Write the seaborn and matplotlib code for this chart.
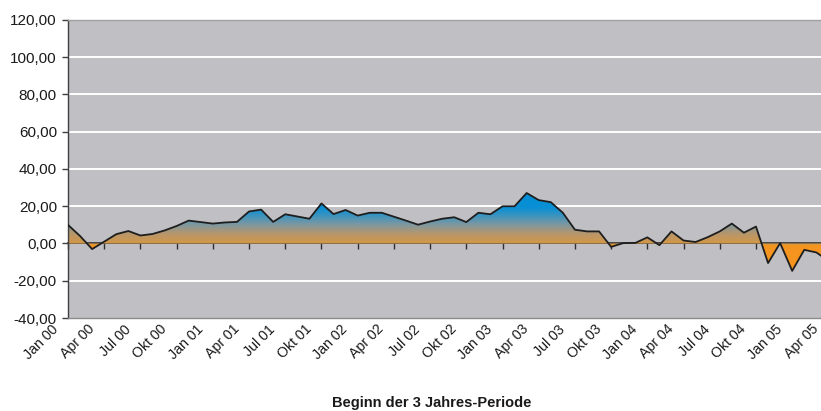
import numpy as np
import pandas as pd
import matplotlib
matplotlib.use("Agg")
import matplotlib.pyplot as plt
import seaborn as sns
from matplotlib.colors import LinearSegmentedColormap
from matplotlib.ticker import FuncFormatter
from matplotlib.transforms import ScaledTranslation

# ---- data (monthly, Jan 00 .. Apr 05) ----
values = [10.0, 4.0, -3.0, 1.0, 5.0, 6.7, 4.3, 5.1, 7.0, 9.4,
          12.3, 11.5, 10.7, 11.3, 11.6, 17.2, 18.2, 11.6, 15.7, 14.5,
          13.3, 21.5, 15.8, 18.0, 15.0, 16.5, 16.5, 14.4, 12.3, 10.1,
          11.8, 13.3, 14.1, 11.5, 16.5, 15.7, 20.0, 20.0, 27.1, 23.3,
          22.2, 16.5, 7.4, 6.5, 6.5, -1.8, 0.2, 0.3, 3.3, -0.9,
          6.5, 1.6, 0.8, 3.4, 6.5, 10.7, 5.8, 9.1, -10.5, 0.2,
          -14.7, -3.4, -4.8, -9.3]
tick_labels = ["Jan 00", "Apr 00", "Jul 00", "Okt 00",
               "Jan 01", "Apr 01", "Jul 01", "Okt 01",
               "Jan 02", "Apr 02", "Jul 02", "Okt 02",
               "Jan 03", "Apr 03", "Jul 03", "Okt 03",
               "Jan 04", "Apr 04", "Jul 04", "Okt 04",
               "Jan 05", "Apr 05"]
y_ticks = [-40, -20, 0, 20, 40, 60, 80, 100, 120]
x_label = "Beginn der 3 Jahres-Periode"

df = pd.DataFrame({"month": np.arange(len(values)), "value": values})
tick_pos = np.arange(0, len(tick_labels) * 3, 3)

sns.set_style("white")
plt.rcParams["font.family"] = ["Liberation Sans", "DejaVu Sans"]

fig = plt.figure(figsize=(8.21, 4.11), dpi=100)
ax = fig.add_axes([68 / 821, 93 / 411, 760.4 / 821, 298 / 411])
ax.set_facecolor("#C0C0C4")

# gridlines
for y in y_ticks[1:-1]:
    if y != 0:
        ax.axhline(y, color="white", lw=1.4, zorder=1)

# gradient-filled area
poly = ax.fill_between(df["month"], df["value"], 0, color="none", lw=0)
path = poly.get_paths()[0]
vmin, vmax = -16, 28
stops = [(-16, "#F7941D"), (-1.5, "#F5951F"), (0, "#D29849"), (5, "#B8966A"),
         (10, "#7F98A0"), (15, "#3A93C0"), (19, "#0A90D3"), (28, "#008ED8")]
cmap = LinearSegmentedColormap.from_list(
    "grad", [((v - vmin) / (vmax - vmin), c) for v, c in stops])
grad = np.linspace(vmin, vmax, 400).reshape(-1, 1)
im = ax.imshow(grad, extent=(0, len(values) - 1, vmin, vmax), origin="lower",
               aspect="auto", cmap=cmap, vmin=vmin, vmax=vmax, zorder=2,
               interpolation="bilinear")
im.set_clip_path(path, transform=ax.transData)

sns.lineplot(data=df, x="month", y="value", color="#1E1E1E", lw=1.3,
             ax=ax, zorder=4)

ax.set_xlim(0, len(values) - 1)
ax.set_ylim(-40, 120)
ax.set_xlabel("")
ax.set_ylabel("")

# y axis
ax.set_yticks(y_ticks)
ax.yaxis.set_major_formatter(FuncFormatter(lambda v, p: f"{v:.2f}".replace(".", ",")))
ax.tick_params(axis="y", direction="out", length=4, width=1, color="#404040",
               labelsize=11, labelcolor="#1A1A1A", pad=4, left=True)

# x labels at bottom
ax.set_xticks(tick_pos)
ax.set_xticklabels(tick_labels, rotation=45, ha="right", rotation_mode="anchor")
ax.tick_params(axis="x", length=0, labelsize=10.2, labelcolor="#1A1A1A", pad=3)
shift = ScaledTranslation(-0.17, 0.0, fig.dpi_scale_trans)
for lab in ax.get_xticklabels():
    lab.set_transform(lab.get_transform() + shift)

# zero axis with tick marks
sec = ax.secondary_xaxis(40 / 160)
sec.set_xticks(tick_pos)
sec.tick_params(direction="out", length=4, width=1, color="#303030",
                labelbottom=False, labeltop=False)
for s in sec.spines.values():
    s.set_color("#303030")
    s.set_linewidth(1.2)

for name, sp in ax.spines.items():
    sp.set_visible(True)
    sp.set_linewidth(1.0)
ax.spines["left"].set_color("#404040")
ax.spines["bottom"].set_color("#8A8A8A")
ax.spines["top"].set_color("#A0A0A0")
ax.spines["right"].set_color("#A0A0A0")

fig.text(432 / 821, 1 - 403 / 411, x_label, ha="center", va="center",
         fontsize=10.5, fontweight="bold", color="#1A1A1A")

fig.savefig("out.png", dpi=100, facecolor="white")
